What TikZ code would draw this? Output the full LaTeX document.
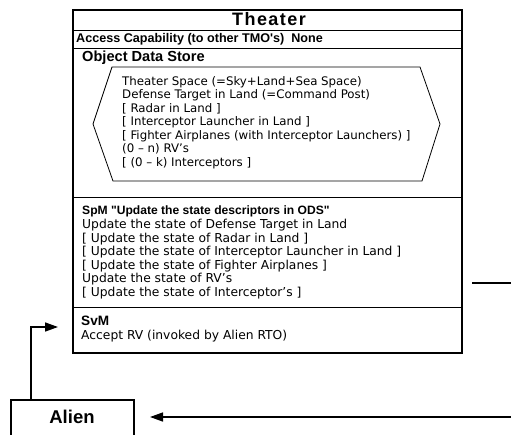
\documentclass[tikz,border=0pt]{standalone}
\usepackage{fontspec}
\setmainfont{DejaVu Sans}
\newfontfamily\hdfont{Liberation Sans}
\usetikzlibrary{arrows.meta}
\begin{document}
\begin{tikzpicture}[x=1pt,y=-1pt,
  frame/.style={draw, line width=1.6pt, inner sep=0pt},
  sepline/.style={line width=1pt},
  txt/.style={anchor=west, inner sep=0pt, font=\fontsize{12.3}{13.6}\selectfont},
  head/.style={anchor=west, inner sep=0pt, font=\hdfont\bfseries\fontsize{12.6}{13.6}\selectfont},
  block/.style={anchor=north west, inner sep=0pt, align=left, font=\fontsize{12.3}{13.6}\selectfont},
  hexa/.style={draw, line width=0.8pt},
  arr/.style={line width=1.5pt, -{Triangle[length=13pt,width=9pt]}},
  plain/.style={line width=1.5pt}]
\clip (0,0) rectangle (511,434);
% outer Theater box
\node[frame, anchor=north west, minimum width=389pt, minimum height=343pt] (theater) at (72,9) {};
\node[font=\hdfont\bfseries\fontsize{18}{20}\selectfont\addfontfeature{LetterSpace=8}, inner sep=0pt] (title) at (269,19) {Theater};
\draw[sepline] (theater.west |- 0,30) -- (theater.east |- 0,30);
\node[head] (access) at (76,39) {Access Capability (to other TMO's)\ \ None};
\draw[sepline] (theater.west |- 0,48) -- (theater.east |- 0,48);
\node[head, font=\hdfont\bfseries\fontsize{14.6}{15}\selectfont] (ods) at (82,58) {Object Data Store};
% hexagon
\draw[hexa] (112,67) coordinate (h1) -- (420,67) coordinate (h2) -- (440,124) coordinate (h3)
  -- (422,181) coordinate (h4) -- (113,181) coordinate (h5) -- (93,124) coordinate (h6) -- cycle;
\node[block, font=\fontsize{11.8}{13.5}\selectfont] (odstext) at (122,76) {Theater Space (=Sky+Land+Sea Space)\\
Defense Target in Land (=Command Post)\\
{[} Radar in Land ]\\
{[} Interceptor Launcher in Land ]\\
{[} Fighter Airplanes (with Interceptor Launchers) ]\\
(0 – n) RV's\\
{[} (0 – k) Interceptors ]};
\draw[sepline] (theater.west |- 0,197) -- (theater.east |- 0,197);
% SpM
\node[head, font=\hdfont\bfseries\fontsize{12.1}{13.6}\selectfont] (spm) at (82,211) {SpM "Update the state descriptors in ODS"};
\node[block] (spmtext) at (82,219) {Update the state of Defense Target in Land\\
{[} Update the state of Radar in Land ]\\
{[} Update the state of Interceptor Launcher in Land ]\\
{[} Update the state of Fighter Airplanes ]\\
Update the state of RV's\\
{[} Update the state of Interceptor's ]};
\draw[sepline] (theater.west |- 0,307) -- (theater.east |- 0,307);
% SvM
\node[head, font=\hdfont\bfseries\fontsize{13.6}{13.6}\selectfont] (svm) at (81,321) {SvM};
\node[txt] (accept) at (81,336) {Accept RV (invoked by Alien RTO)};
% Alien
\node[frame, anchor=north west, minimum width=123pt, minimum height=60pt] (alien) at (10,399) {};
\node[font=\hdfont\bfseries\fontsize{18.5}{20}\selectfont, inner sep=0pt] (alientext) at (72,417) {Alien};
% connectors
\coordinate (svmin) at (58,327);
\draw[arr] ([xshift=21pt]alien.north west) |- (svmin);
\coordinate (rightin) at (511,417);
\coordinate (alienin) at (150,417);
\draw[arr] (rightin) -- (alienin);
\coordinate (stubA) at (472,283);
\coordinate (stubB) at (511,283);
\draw[plain] (stubA) -- (stubB);
\end{tikzpicture}
\end{document}
